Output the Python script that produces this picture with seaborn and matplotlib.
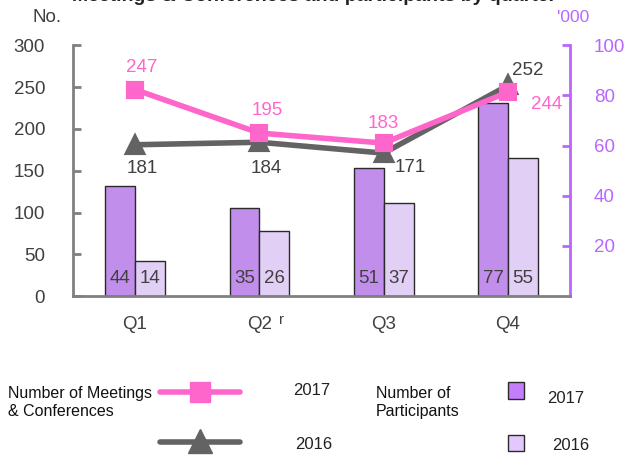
import matplotlib
matplotlib.use("Agg")
import matplotlib.pyplot as plt
from matplotlib.lines import Line2D
from matplotlib.patches import Rectangle
import pandas as pd
import seaborn as sns

quarters = ["Q1", "Q2", "Q3", "Q4"]
meetings_2017 = [247, 195, 183, 244]
meetings_2016 = [181, 184, 171, 252]
participants_2017 = [44, 35, 51, 77]
participants_2016 = [14, 26, 37, 55]

PINK = "#FF66CC"
GREY = "#636363"
PURPLE = "#C47EFB"
LILAC = "#E2C8FD"
AXIS_PURPLE = "#B966FF"
TEXT = "#404040"

sns.set_style("white")
plt.rcParams["font.family"] = ["Liberation Sans", "DejaVu Sans"]

fig = plt.figure(figsize=(6.28, 4.57), dpi=100)
ax = fig.add_axes([0.116, 0.352, 0.792, 0.549])
ax2 = ax.twinx()

bars = pd.DataFrame({
    "quarter": quarters * 2,
    "participants": participants_2017 + participants_2016,
    "year": ["2017"] * 4 + ["2016"] * 4,
})
sns.barplot(data=bars, x="quarter", y="participants", hue="year",
            hue_order=["2017", "2016"], palette=[PURPLE, LILAC],
            width=0.48, edgecolor="#2a2a2a", linewidth=1.0,
            legend=False, ax=ax2)
# participant labels sit at the foot of each bar
for cont, vals in zip(ax2.containers, [participants_2017, participants_2016]):
    for bar, v in zip(cont, vals):
        ax2.annotate(str(v), (bar.get_x() + bar.get_width() / 2, 0),
                     xytext=(0, 13), textcoords="offset points",
                     ha="center", va="center", fontsize=13.5, color=TEXT)

sns.pointplot(x=quarters, y=meetings_2016, color=GREY, marker="^",
              markersize=11, linewidth=4, ax=ax)
sns.pointplot(x=quarters, y=meetings_2017, color=PINK, marker="s",
              markersize=10, linewidth=4, ax=ax)

# line value labels (offsets in points)
off16 = [(5, -17), (5, -19), (19, -10), (14, 11)]
off17 = [(5, 16), (6, 16), (0, 14), (28, -9)]
for i, q in enumerate(quarters):
    ax.annotate(str(meetings_2016[i]), (i, meetings_2016[i]), xytext=off16[i],
                textcoords="offset points", ha="center", va="center",
                fontsize=13.5, color=TEXT)
    ax.annotate(str(meetings_2017[i]), (i, meetings_2017[i]), xytext=off17[i],
                textcoords="offset points", ha="center", va="center",
                fontsize=13.5, color=PINK)

ax.set_zorder(ax2.get_zorder() + 1)
ax.patch.set_visible(False)

ax.set_xlim(-0.5, 3.5)
ax.set_ylim(0, 300)
ax2.set_ylim(0, 100)
ax.set_yticks(range(0, 301, 50))
ax2.set_yticks([20, 40, 60, 80, 100])
for a in (ax, ax2):
    a.set_xlabel("")
    a.set_ylabel("")
    for s in a.spines.values():
        s.set_visible(False)
for side in ("left", "bottom"):
    ax.spines[side].set_visible(True)
    ax.spines[side].set_color("#808080")
    ax.spines[side].set_linewidth(2)
ax2.spines["right"].set_visible(True)
ax2.spines["right"].set_color(AXIS_PURPLE)
ax2.spines["right"].set_linewidth(2)

ax.tick_params(axis="y", direction="in", length=6, width=2, color="#808080",
               labelsize=13.5, labelcolor=TEXT, pad=20)
ax.tick_params(axis="x", length=0, labelsize=13.5, labelcolor=TEXT, pad=14)
ax2.tick_params(axis="y", direction="in", length=6, width=2, color=AXIS_PURPLE,
                labelsize=13.5, labelcolor=AXIS_PURPLE, pad=17)

ax.text(-0.022, 1.11, "No.", transform=ax.transAxes, ha="right", va="center",
        fontsize=13.5, color=TEXT)
ax2.text(1.005, 1.11, "'000", transform=ax2.transAxes, ha="center", va="center",
         fontsize=12.5, color=AXIS_PURPLE)
ax.text(1.18, -0.095, "r", transform=ax.get_xaxis_transform(), ha="center",
        va="center", fontsize=11, color=TEXT)

fig.text(0.5, 1.008, "Meetings & Conferences and participants by quarter",
         ha="center", va="center", fontsize=14, fontweight="bold", color="#222222")

# legend
fig.add_artist(Line2D([0.255, 0.382], [0.142, 0.142], color=PINK, lw=4,
                      transform=fig.transFigure))
fig.add_artist(Line2D([0.318], [0.142], color=PINK, marker="s", markersize=15,
                      transform=fig.transFigure))
fig.add_artist(Line2D([0.255, 0.382], [0.032, 0.032], color=GREY, lw=4,
                      transform=fig.transFigure))
fig.add_artist(Line2D([0.318], [0.036], color=GREY, marker="^", markersize=17,
                      transform=fig.transFigure))
fig.text(0.012, 0.12, "Number of Meetings\n& Conferences", ha="left", va="center",
         fontsize=11.5, color="#111111", linespacing=1.25)
fig.text(0.496, 0.145, "2017", ha="center", va="center", fontsize=12, color="#222222")
fig.text(0.500, 0.027, "2016", ha="center", va="center", fontsize=12, color="#222222")
fig.text(0.598, 0.12, "Number of\nParticipants", ha="left", va="center",
         fontsize=11.5, color="#111111", linespacing=1.25)
fig.add_artist(Rectangle((0.809, 0.128), 0.025, 0.036, facecolor=PURPLE,
                         edgecolor="#2a2a2a", lw=1, transform=fig.transFigure))
fig.add_artist(Rectangle((0.809, 0.013), 0.025, 0.036, facecolor=LILAC,
                         edgecolor="#2a2a2a", lw=1, transform=fig.transFigure))
fig.text(0.900, 0.128, "2017", ha="center", va="center", fontsize=12, color="#222222")
fig.text(0.908, 0.025, "2016", ha="center", va="center", fontsize=12, color="#222222")

fig.savefig("out.png", dpi=100)
